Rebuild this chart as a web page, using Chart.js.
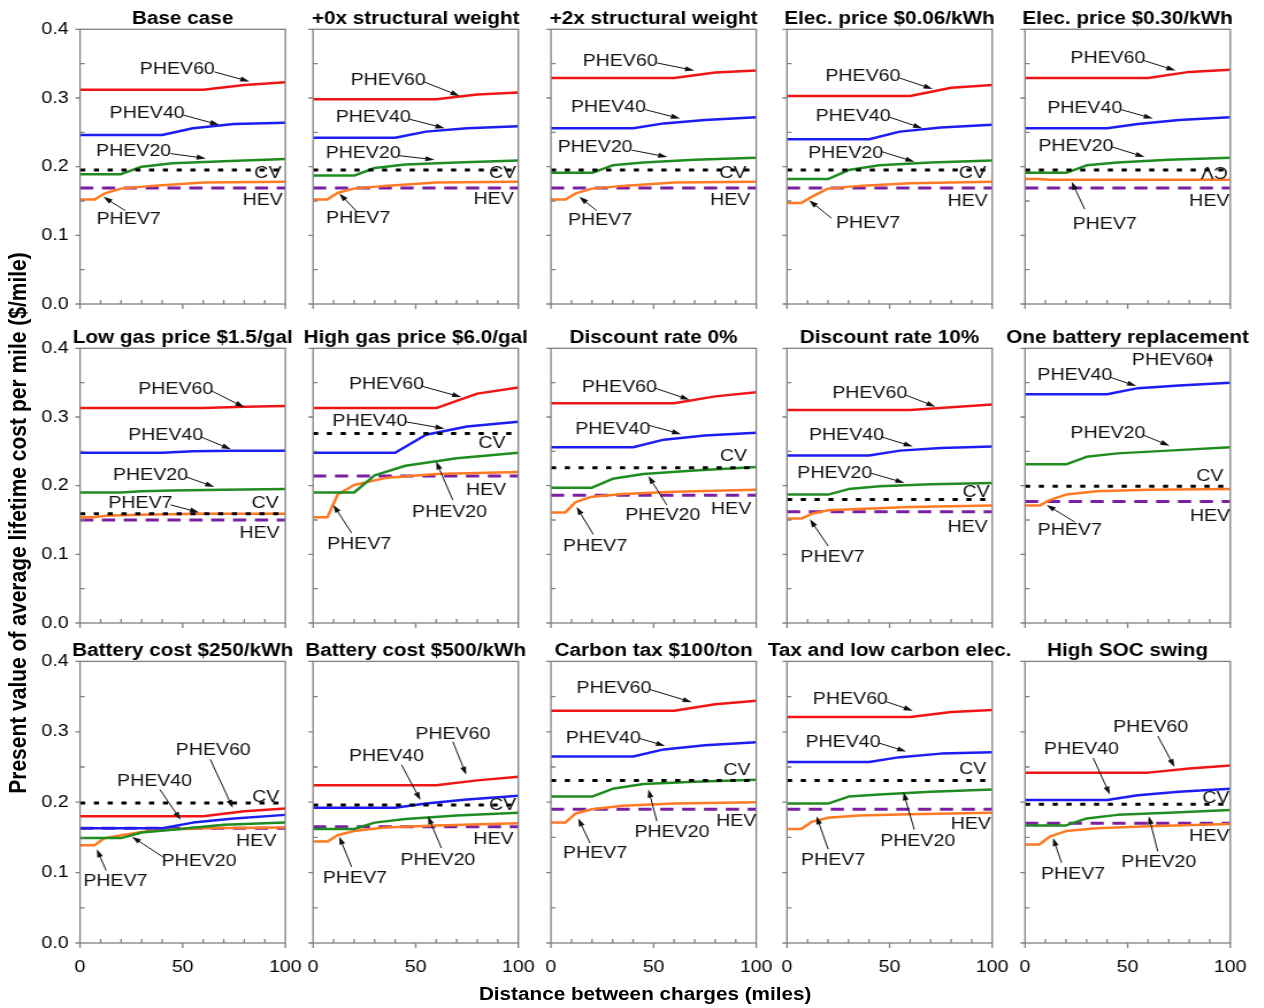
<!DOCTYPE html>
<html>
<head>
<meta charset="utf-8">
<script src="https://cdn.jsdelivr.net/npm/chart.js@4.4.0/dist/chart.umd.min.js"></script>
<style>
  html, body { margin: 0; padding: 0; background: #fff; overflow: hidden; }
  #stage { position: absolute; left: 0; top: 0; width: 1099px; height: 1008px; transform: scaleX(1.15); transform-origin: 0 0; }
  #stage canvas { position: absolute; left: 0; top: 0; }
  .axis-title { position: absolute; font-family: "Liberation Sans", Arial, sans-serif; font-weight: bold; color: #000; white-space: nowrap; }
  #yTitle { font-size: 21px; left: 15.5px; top: 523px; transform: translate(-50%, -50%) rotate(-90deg); }
  #xTitle { font-size: 18px; left: 561px; top: 994px; transform: translate(-50%, -50%); }
</style>
</head>
<body>
<div id="stage">
  <div id="yTitle" class="axis-title">Present value of average lifetime cost per mile ($/mile)</div>
  <div id="xTitle" class="axis-title">Distance between charges (miles)</div>
</div>
<script>
// Sensitivity panels: lifetime cost per mile vs distance between charges

const panelTitles = [
    'Base case', '+0x structural weight', '+2x structural weight', 'Elec. price $0.06/kWh', 'Elec. price $0.30/kWh',
    'Low gas price $1.5/gal', 'High gas price $6.0/gal', 'Discount rate 0%', 'Discount rate 10%', 'One battery replacement',
    'Battery cost $250/kWh', 'Battery cost $500/kWh', 'Carbon tax $100/ton', 'Tax and low carbon elec.', 'High SOC swing'
];

const xTicks = [0, 50, 100];
const yTicks = [0, 0.1, 0.2, 0.3, 0.4];

// distances (miles) at which each PHEV curve is read
const phev7Miles = [0, 7, 12, 20, 35, 60, 100];
const phev20Miles = [0, 20, 30, 45, 70, 100];
const phev40Miles = [0, 40, 55, 75, 100];
const phev60Miles = [0, 60, 80, 100];

// $/mile, one row per panel
const phev7Cost = [
    [0.152, 0.152, 0.161, 0.168, 0.172, 0.177, 0.178],
    [0.152, 0.152, 0.162, 0.168, 0.172, 0.177, 0.178],
    [0.152, 0.152, 0.161, 0.168, 0.172, 0.177, 0.178],
    [0.147, 0.147, 0.156, 0.168, 0.172, 0.176, 0.178],
    [0.182, 0.182, 0.181, 0.181, 0.181, 0.181, 0.181],
    [0.154, 0.154, 0.156, 0.157, 0.158, 0.159, 0.159],
    [0.154, 0.154, 0.187, 0.201, 0.211, 0.217, 0.220],
    [0.161, 0.161, 0.176, 0.184, 0.188, 0.191, 0.194],
    [0.152, 0.152, 0.159, 0.164, 0.166, 0.169, 0.171],
    [0.171, 0.171, 0.179, 0.187, 0.192, 0.194, 0.195],
    [0.139, 0.139, 0.149, 0.153, 0.160, 0.163, 0.164],
    [0.144, 0.144, 0.153, 0.159, 0.164, 0.167, 0.170],
    [0.171, 0.171, 0.184, 0.190, 0.195, 0.198, 0.200],
    [0.162, 0.162, 0.172, 0.178, 0.181, 0.183, 0.185],
    [0.140, 0.140, 0.151, 0.159, 0.163, 0.166, 0.169]
];
const phev20Cost = [
    [0.189, 0.189, 0.200, 0.205, 0.208, 0.211],
    [0.187, 0.187, 0.198, 0.203, 0.206, 0.209],
    [0.191, 0.191, 0.202, 0.206, 0.210, 0.213],
    [0.182, 0.182, 0.195, 0.202, 0.206, 0.209],
    [0.191, 0.191, 0.202, 0.206, 0.210, 0.213],
    [0.190, 0.190, 0.192, 0.193, 0.194, 0.195],
    [0.190, 0.190, 0.215, 0.229, 0.240, 0.248],
    [0.197, 0.197, 0.210, 0.217, 0.222, 0.227],
    [0.187, 0.187, 0.195, 0.199, 0.202, 0.204],
    [0.231, 0.231, 0.242, 0.247, 0.251, 0.256],
    [0.149, 0.149, 0.157, 0.161, 0.168, 0.171],
    [0.162, 0.162, 0.171, 0.176, 0.181, 0.185],
    [0.208, 0.208, 0.219, 0.226, 0.229, 0.232],
    [0.198, 0.198, 0.208, 0.211, 0.215, 0.218],
    [0.167, 0.167, 0.177, 0.182, 0.185, 0.189]
];
const phev40Cost = [
    [0.246, 0.246, 0.256, 0.262, 0.264],
    [0.242, 0.242, 0.251, 0.256, 0.259],
    [0.256, 0.256, 0.263, 0.268, 0.272],
    [0.240, 0.240, 0.251, 0.257, 0.261],
    [0.256, 0.256, 0.262, 0.268, 0.272],
    [0.248, 0.248, 0.250, 0.251, 0.251],
    [0.248, 0.248, 0.274, 0.286, 0.293],
    [0.256, 0.256, 0.267, 0.273, 0.277],
    [0.244, 0.244, 0.251, 0.255, 0.257],
    [0.333, 0.333, 0.342, 0.346, 0.350],
    [0.163, 0.163, 0.171, 0.177, 0.182],
    [0.192, 0.192, 0.198, 0.204, 0.209],
    [0.265, 0.265, 0.275, 0.281, 0.285],
    [0.257, 0.257, 0.264, 0.269, 0.271],
    [0.203, 0.203, 0.210, 0.215, 0.219]
];
const phev60Cost = [
    [0.312, 0.312, 0.319, 0.323],
    [0.298, 0.298, 0.305, 0.308],
    [0.329, 0.329, 0.337, 0.340],
    [0.303, 0.303, 0.315, 0.319],
    [0.329, 0.329, 0.338, 0.341],
    [0.313, 0.313, 0.315, 0.316],
    [0.313, 0.313, 0.334, 0.343],
    [0.320, 0.320, 0.330, 0.336],
    [0.310, 0.310, 0.314, 0.318],
    null, // above 0.4, off the chart
    [0.180, 0.180, 0.187, 0.191],
    [0.224, 0.224, 0.231, 0.236],
    [0.330, 0.330, 0.339, 0.344],
    [0.321, 0.321, 0.328, 0.331],
    [0.242, 0.242, 0.248, 0.252]
];
const cvCost = [0.195, 0.195, 0.195, 0.195, 0.195, 0.159, 0.276, 0.226, 0.180, 0.199, 0.199, 0.196, 0.231, 0.231, 0.197];
const hevCost = [0.169, 0.169, 0.169, 0.169, 0.169, 0.150, 0.214, 0.186, 0.162, 0.177, 0.163, 0.165, 0.190, 0.190, 0.170];

// callouts: [text, labelX, labelY, arrowFromX, arrowFromY, arrowToX, arrowToY, upsideDown] in data units
const callouts = [
    [['PHEV60', 47.4, .342, 65.4, .338, 82.5, .324], ['PHEV40', 32.7, .278, 50.3, .275, 67.8, .261],
     ['PHEV20', 26.1, .222, 44.1, .219, 61.3, .212], ['CV', 91.5, .191], ['HEV', 89, .151],
     ['PHEV7', 23.7, .123, 22, .136, 11.4, .156]],
    [['PHEV60', 36.6, .326, 53.6, .324, 71.4, .303], ['PHEV40', 29.3, .272, 47.1, .269, 64.1, .256],
     ['PHEV20', 24.4, .219, 41.9, .216, 59.2, .210], ['CV', 92.4, .190], ['HEV', 88, .152],
     ['PHEV7', 22, .125, 21.2, .135, 12.8, .161]],
    [['PHEV60', 33.7, .354, 51.6, .351, 69.8, .340], ['PHEV40', 28, .286, 45.9, .283, 62.9, .270],
     ['PHEV20', 21.5, .228, 39.4, .224, 56.7, .214], ['CV', 88.6, .190], ['HEV', 87.3, .151],
     ['PHEV7', 23.9, .122, 22.3, .136, 13.8, .156]],
    [['PHEV60', 37, .332, 54.9, .329, 71, .313], ['PHEV40', 32.2, .274, 50, .272, 65.9, .256],
     ['PHEV20', 28.6, .219, 46, .222, 62.1, .207], ['CV', 90.4, .190], ['HEV', 88, .149],
     ['PHEV7', 39.5, .118, 21.7, .125, 10.8, .151]],
    [['PHEV60', 40.4, .358, 57.4, .355, 73.3, .340], ['PHEV40', 29.1, .285, 46.9, .283, 62.3, .270],
     ['PHEV20', 24.8, .229, 42.1, .229, 58.3, .214], ['CV', 92.2, .193, null, null, null, null, true],
     ['HEV', 89.8, .149], ['PHEV7', 38.8, .116, 29.1, .138, 22.7, .178]],
    [['PHEV60', 46.6, .340, 64.1, .338, 80, .314], ['PHEV40', 41.7, .274, 58.8, .271, 73.5, .253],
     ['PHEV20', 34.3, .215, 51.5, .213, 65.4, .198], ['PHEV7', 29.4, .174, 44.1, .172, 58, .161],
     ['CV', 90.2, .174], ['HEV', 87.4, .131]],
    [['PHEV60', 35.8, .347, 52.8, .345, 72.2, .329], ['PHEV40', 27.7, .294, 45.1, .293, 64.1, .283],
     ['CV', 87.2, .261], ['HEV', 84.3, .193], ['PHEV20', 66.5, .161, 68.1, .179, 60, .235],
     ['PHEV7', 22.5, .115, 18.8, .131, 9.9, .172]],
    [['PHEV60', 33.3, .343, 50.7, .342, 67.5, .325], ['PHEV40', 30.1, .282, 47.5, .288, 63.4, .275],
     ['CV', 88.9, .242], ['HEV', 87.8, .166], ['PHEV20', 54.5, .157, 56.4, .172, 47.5, .214],
     ['PHEV7', 21.5, .111, 20.6, .129, 12.5, .169]],
    [['PHEV60', 40.3, .335, 57.8, .332, 72.3, .315], ['PHEV40', 29, .273, 46, .271, 61.3, .257],
     ['PHEV20', 23.3, .218, 41.1, .218, 57.3, .204], ['CV', 92.1, .191], ['HEV', 88, .139],
     ['PHEV7', 22.2, .096, 20.1, .112, 11.2, .151]],
    [['PHEV60', 70.4, .383, 90.1, .373, 90.1, .393], ['PHEV40', 24.3, .360, 41.3, .358, 54.2, .345],
     ['PHEV20', 40.4, .276, 57.4, .274, 70.4, .258], ['CV', 90.1, .214], ['HEV', 90.1, .155],
     ['PHEV7', 21.8, .135, 24.3, .147, 10.5, .172]],
    [['PHEV60', 64.9, .274, 63.4, .261, 74.4, .192], ['PHEV40', 36.3, .230, 38.9, .218, 49, .175],
     ['CV', 90.4, .207], ['HEV', 85.8, .144], ['PHEV20', 58, .116, 40.5, .122, 25.3, .151],
     ['PHEV7', 17.2, .087, 12.7, .103, 8.2, .133]],
    [['PHEV60', 68.1, .297, 68.1, .286, 74.6, .239], ['PHEV40', 35.8, .265, 43.1, .253, 52.3, .203],
     ['CV', 92.4, .196], ['HEV', 87.9, .147], ['PHEV20', 60.8, .118, 62.5, .135, 56, .180],
     ['PHEV7', 20.4, .092, 18.8, .108, 12.8, .151]],
    [['PHEV60', 30.7, .362, 48.3, .360, 68.6, .342], ['PHEV40', 25.5, .291, 42.6, .291, 55.6, .280],
     ['CV', 90.6, .245], ['HEV', 90.2, .173], ['PHEV20', 58.9, .157, 51.6, .173, 47.5, .218],
     ['PHEV7', 21.5, .128, 19, .142, 13.3, .177]],
    [['PHEV60', 30.9, .346, 48.1, .343, 61.3, .330], ['PHEV40', 27.3, .285, 44.8, .284, 58.1, .272],
     ['CV', 90.5, .247], ['HEV', 89.6, .169], ['PHEV20', 63.7, .144, 62, .161, 56.8, .214],
     ['PHEV7', 22.5, .118, 20.1, .133, 14.4, .180]],
    [['PHEV60', 61.2, .307, 64.7, .294, 72.8, .250], ['PHEV40', 27.5, .275, 33.2, .263, 41.3, .211],
     ['CV', 93, .206], ['HEV', 89.8, .152], ['PHEV20', 65.2, .114, 64.7, .130, 60.3, .180],
     ['PHEV7', 23.4, .097, 17.8, .114, 13.7, .149]]
];

// layout, in unstretched stage pixels
const STAGE_W = 1099, STAGE_H = 1008;
const colLeft = [69.6, 272.2, 479.1, 684.3, 891.3];
const plotW = 178.5;
const rowTop = [29.3, 348.3, 661.4];
const rowBottom = [304, 623, 943];
const Y_AXIS_W = 60, X_AXIS_H = 40;

const FONT = '"Liberation Sans", Arial, sans-serif';
Chart.defaults.font.family = FONT;
Chart.defaults.color = '#000';

function drawArrow(ctx, x0, y0, x1, y1) {
    const ang = Math.atan2(y1 - y0, x1 - x0);
    const len = 8, half = 2.6;
    ctx.beginPath();
    ctx.moveTo(x0, y0);
    ctx.lineTo(x1 - Math.cos(ang) * len * 0.7, y1 - Math.sin(ang) * len * 0.7);
    ctx.stroke();
    ctx.beginPath();
    ctx.moveTo(x1, y1);
    ctx.lineTo(x1 - len * Math.cos(ang) + half * Math.sin(ang), y1 - len * Math.sin(ang) - half * Math.cos(ang));
    ctx.lineTo(x1 - len * Math.cos(ang) - half * Math.sin(ang), y1 - len * Math.sin(ang) + half * Math.cos(ang));
    ctx.closePath();
    ctx.fill();
}

// frame, tick marks, panel title and the labelled arrows
const panelDecor = {
    id: 'panelDecor',
    afterDraw(chart, args, opts) {
        const { ctx, chartArea: a, scales: { x, y } } = chart;
        ctx.save();
        ctx.strokeStyle = '#808080';
        ctx.lineWidth = 1.3;
        ctx.strokeRect(a.left, a.top, a.right - a.left, a.bottom - a.top);
        ctx.beginPath();
        for (let v = 0; v <= 100; v += 10) {
            const px = x.getPixelForValue(v);
            if (v % 50 === 0) { ctx.moveTo(px, a.bottom); ctx.lineTo(px, a.bottom + 5); }
            else { ctx.moveTo(px, a.bottom); ctx.lineTo(px, a.bottom - 4); }
        }
        for (let i = 0; i <= 8; i++) {
            const py = y.getPixelForValue(i * 0.05);
            if (i % 2 === 0) { ctx.moveTo(a.left - 4, py); ctx.lineTo(a.left, py); }
            else { ctx.moveTo(a.left, py); ctx.lineTo(a.left + 4, py); }
        }
        ctx.stroke();

        // title
        ctx.fillStyle = '#000';
        ctx.font = 'bold 18px ' + FONT;
        ctx.textAlign = 'center';
        ctx.textBaseline = 'middle';
        ctx.fillText(opts.title, (a.left + a.right) / 2, a.top - 10.5);

        // callouts
        ctx.font = '17px ' + FONT;
        ctx.fillStyle = '#111';
        ctx.strokeStyle = '#111';
        ctx.lineWidth = 1;
        opts.notes.forEach(n => {
            const [text, cx, cy, sx, sy, tx, ty, flip] = n;
            const px = x.getPixelForValue(cx), py = y.getPixelForValue(cy);
            if (flip) {
                ctx.save();
                ctx.translate(px, py);
                ctx.rotate(Math.PI);
                ctx.fillText(text, 0, 0);
                ctx.restore();
            } else {
                ctx.fillText(text, px, py);
            }
            if (sx != null) {
                drawArrow(ctx, x.getPixelForValue(sx), y.getPixelForValue(sy),
                          x.getPixelForValue(tx), y.getPixelForValue(ty));
            }
        });
        ctx.restore();
    }
};

function curve(miles, costs) {
    return costs ? miles.map((m, i) => ({ x: m, y: costs[i] })) : [];
}

function flat(v) {
    return [{ x: 0, y: v }, { x: 100, y: v }];
}

const stage = document.getElementById('stage');

panelTitles.forEach((title, p) => {
    const row = Math.floor(p / 5), col = p % 5;
    const canvas = document.createElement('canvas');
    canvas.width = STAGE_W;
    canvas.height = STAGE_H;
    stage.appendChild(canvas);

    new Chart(canvas.getContext('2d'), {
        type: 'line',
        data: {
            datasets: [
                { label: 'CV', data: flat(cvCost[p]), borderColor: '#000', borderWidth: 3, borderDash: [4.5, 7.5], order: 0 },
                { label: 'PHEV60', data: curve(phev60Miles, phev60Cost[p]), borderColor: '#f21414', borderWidth: 2.5, order: 1 },
                { label: 'PHEV40', data: curve(phev40Miles, phev40Cost[p]), borderColor: '#1c1cf5', borderWidth: 2.5, order: 2 },
                { label: 'PHEV20', data: curve(phev20Miles, phev20Cost[p]), borderColor: '#1f8c1f', borderWidth: 2.5, order: 3 },
                { label: 'PHEV7', data: curve(phev7Miles, phev7Cost[p]), borderColor: '#ff7a22', borderWidth: 2.5, order: 4 },
                { label: 'HEV', data: flat(hevCost[p]), borderColor: '#7b1fa2', borderWidth: 3, borderDash: [11.5, 7.5], order: 5 }
            ]
        },
        options: {
            responsive: false,
            animation: false,
            events: [],
            elements: { point: { radius: 0 }, line: { tension: 0, borderCapStyle: 'butt', borderJoinStyle: 'round' } },
            layout: {
                padding: {
                    left: colLeft[col] - Y_AXIS_W,
                    right: STAGE_W - colLeft[col] - plotW,
                    top: rowTop[row],
                    bottom: STAGE_H - rowBottom[row] - X_AXIS_H
                }
            },
            plugins: {
                legend: { display: false },
                tooltip: { enabled: false },
                panelDecor: { title: title, notes: callouts[p] }
            },
            scales: {
                x: {
                    type: 'linear',
                    min: 0,
                    max: 100,
                    afterFit: s => { s.height = X_AXIS_H; },
                    afterBuildTicks: s => { s.ticks = xTicks.map(v => ({ value: v })); },
                    grid: { display: false, drawTicks: false },
                    border: { display: false },
                    ticks: { display: row === 2, padding: 14, font: { size: 17 }, color: '#000', maxRotation: 0, autoSkip: false }
                },
                y: {
                    type: 'linear',
                    min: 0,
                    max: 0.4,
                    afterFit: s => { s.width = Y_AXIS_W; },
                    afterBuildTicks: s => { s.ticks = yTicks.map(v => ({ value: v })); },
                    grid: { display: false, drawTicks: false },
                    border: { display: false },
                    ticks: { display: col === 0, padding: 10, font: { size: 17 }, color: '#000', callback: v => v.toFixed(1) }
                }
            }
        },
        plugins: [panelDecor]
    });
});
</script>
</body>
</html>
